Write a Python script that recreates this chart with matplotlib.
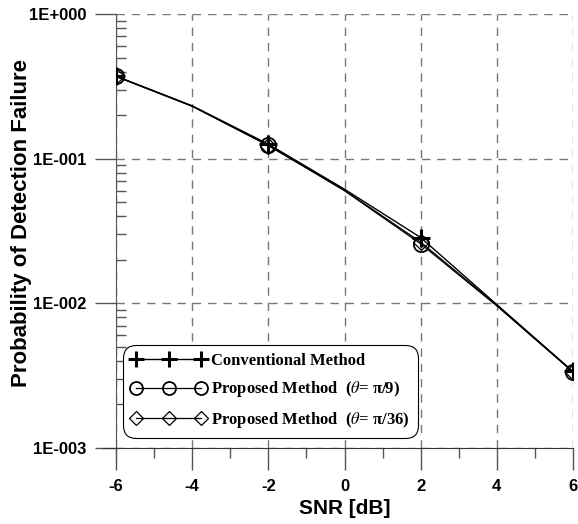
import matplotlib
matplotlib.use("Agg")
import matplotlib.pyplot as plt
from matplotlib.ticker import LogLocator, NullFormatter, FixedLocator, MultipleLocator

snr = [-6, -4, -2, 0, 2, 4, 6]
conventional = [0.372, 0.232, 0.126, 0.0615, 0.0285, 0.0098, 0.00338]
proposed_pi9 = [0.370, 0.230, 0.124, 0.0600, 0.0258, 0.0096, 0.00335]
proposed_pi36 = [0.371, 0.231, 0.123, 0.0605, 0.0265, 0.0097, 0.00336]
labels = ["Conventional Method",
          r"Proposed Method  ($\theta$= π/9)",
          r"Proposed Method  ($\theta$= π/36)"]
yticks = [1e-3, 1e-2, 1e-1, 1e0]
yticklabels = ["1E-003", "1E-002", "1E-001", "1E+000"]
xticks = [-6, -4, -2, 0, 2, 4, 6]

plt.rcParams['mathtext.fontset'] = 'stix'

fig = plt.figure(figsize=(5.78, 5.24), dpi=100)
ax = fig.add_axes([116/578, 1 - 448/524, (573 - 116)/578, (448 - 14)/524])

mk = [0, 2, 4, 6]
ax.plot(snr, conventional, color='black', lw=1.0, marker='+', ms=13, mew=2.2,
        markevery=mk, label=labels[0], zorder=5)
ax.plot(snr, proposed_pi9, color='black', lw=0.9, marker='o', ms=11, mew=1.3,
        mfc='none', markevery=mk, label=labels[1], zorder=4)
ax.plot(snr, proposed_pi36, color='black', lw=0.9, marker='D', ms=8, mew=0.9,
        mfc='none', markevery=mk, label=labels[2], zorder=3)

ax.set_yscale('log')
ax.set_ylim(1e-3, 1)
ax.set_xlim(-6, 6)

ax.yaxis.set_major_locator(FixedLocator(yticks))
ax.set_yticklabels(yticklabels)
ax.yaxis.set_minor_locator(LogLocator(base=10, subs=range(2, 10)))
ax.yaxis.set_minor_formatter(NullFormatter())
ax.set_xticks(xticks)
ax.set_xticklabels([str(v) for v in xticks])
ax.xaxis.set_minor_locator(MultipleLocator(1))

ax.grid(True, which='major', color='#777777', linestyle=(0, (6, 5)), lw=1.0)

for s in ['top', 'right']:
    ax.spines[s].set_visible(False)
ax.spines['left'].set_color('#555555')
ax.spines['bottom'].set_color('#333333')
ax.spines['left'].set_bounds(0.00083, 1.0)
ax.spines['bottom'].set_bounds(-6.34, 6)

ax.tick_params(axis='y', which='major', direction='out', length=15, width=1, color='#555555', pad=6)
ax.tick_params(axis='y', which='minor', direction='in', length=7, width=1, color='#555555')
ax.tick_params(axis='x', which='major', direction='out', length=16, width=1, color='#555555', pad=6)
ax.tick_params(axis='x', which='minor', direction='out', length=7, width=1, color='#555555')

for lab in ax.get_xticklabels() + ax.get_yticklabels():
    lab.set_fontfamily('Liberation Sans')
    lab.set_fontweight('bold')
    lab.set_fontsize(12)

ax.set_xlabel("SNR [dB]", fontfamily='Liberation Sans', fontweight='bold', fontsize=15, labelpad=4)
ax.set_ylabel("Probability of Detection Failure", fontfamily='Liberation Sans',
              fontweight='bold', fontsize=16)
ax.yaxis.set_label_coords(-0.184, 0.518)

leg = ax.legend(loc='lower left', bbox_to_anchor=(0.0153, 0.023), numpoints=3,
                prop={'family': 'Liberation Serif', 'weight': 'bold', 'size': 12},
                frameon=True, fancybox=True, edgecolor='black', framealpha=1,
                handlelength=4.5, handletextpad=0.3, borderpad=0.5, labelspacing=0.62,
                borderaxespad=0.0, markerscale=0.85)
leg.get_frame().set_linewidth(0.8)
leg.get_frame().set_boxstyle('round', pad=0.0, rounding_size=0.8)

fig.savefig("out.png", dpi=100)
